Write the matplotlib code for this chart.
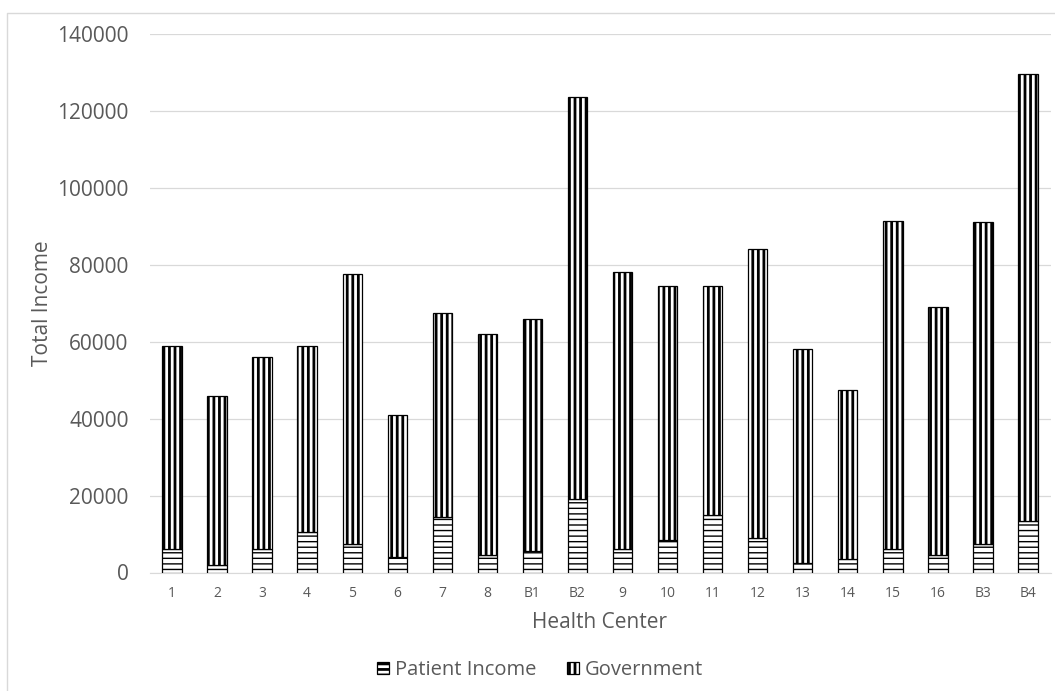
import numpy as np
import matplotlib.pyplot as plt
from matplotlib.lines import Line2D

centers = ["1", "2", "3", "4", "5", "6", "7", "8", "B1", "B2",
           "9", "10", "11", "12", "13", "14", "15", "16", "B3", "B4"]
total_income = [59000, 46000, 56000, 59000, 77500, 41000, 67500, 62000, 66000, 123500,
                78000, 74500, 74500, 84000, 58000, 47500, 91500, 69000, 91000, 129500]
patient_income = [6000, 2000, 6000, 10500, 7500, 4000, 14500, 4500, 5500, 19000,
                  6000, 8500, 15000, 9000, 2500, 3500, 6000, 4500, 7500, 13500]
government = [t - p for t, p in zip(total_income, patient_income)]

plt.rcParams['font.family'] = ['Open Sans', 'DejaVu Sans']
text_col = '#595959'

W, H = 1055, 691
fig = plt.figure(figsize=(W / 100, H / 100), dpi=100)
ax = fig.add_axes([149.5 / W, 1 - 572.5 / H, 901 / W, 538.5 / H])

# chart area border (left and top edges only fall inside the image)
fig.lines.append(Line2D([7 / W, 7 / W, 1.0], [0.0, 1 - 13 / H, 1 - 13 / H],
                        transform=fig.transFigure, color='#d9d9d9', linewidth=1.0))

x = np.arange(len(centers))
w = 0.43
plt.rcParams['hatch.linewidth'] = 1.0
ax.bar(x, patient_income, w, color='white', edgecolor='black', hatch='---',
       linewidth=0.9, label='Patient Income', zorder=3)
plt.rcParams['hatch.linewidth'] = 2.0
ax.bar(x, government, w, bottom=patient_income, color='white', edgecolor='black',
       hatch='|||', linewidth=0.9, label='Government', zorder=3)

ax.set_xlim(-0.5, len(centers) - 0.5)
ax.set_ylim(0, 140000)
ax.set_yticks(np.arange(0, 140001, 20000))
ax.set_xticks(x)
ax.set_xticklabels(centers)
ax.tick_params(axis='y', length=0, labelsize=15, labelcolor=text_col, pad=15)
ax.tick_params(axis='x', length=0, labelsize=10, labelcolor=text_col, pad=10)
ax.grid(axis='y', color='#d9d9d9', linewidth=0.9, zorder=0)
for s in ['top', 'right', 'left']:
    ax.spines[s].set_visible(False)
ax.spines['bottom'].set_color('#d9d9d9')

ax.set_xlabel('Health Center', fontsize=15, color=text_col, labelpad=8)
ax.set_ylabel('Total Income', fontsize=15, color=text_col, labelpad=3)

fig.legend(loc='center', bbox_to_anchor=(540 / W, 1 - 670 / H), ncol=2, frameon=False,
           fontsize=14.5, labelcolor=text_col, handlelength=0.6, handleheight=0.6,
           columnspacing=1.5, handletextpad=0.3)

fig.savefig('out.png', dpi=100)
